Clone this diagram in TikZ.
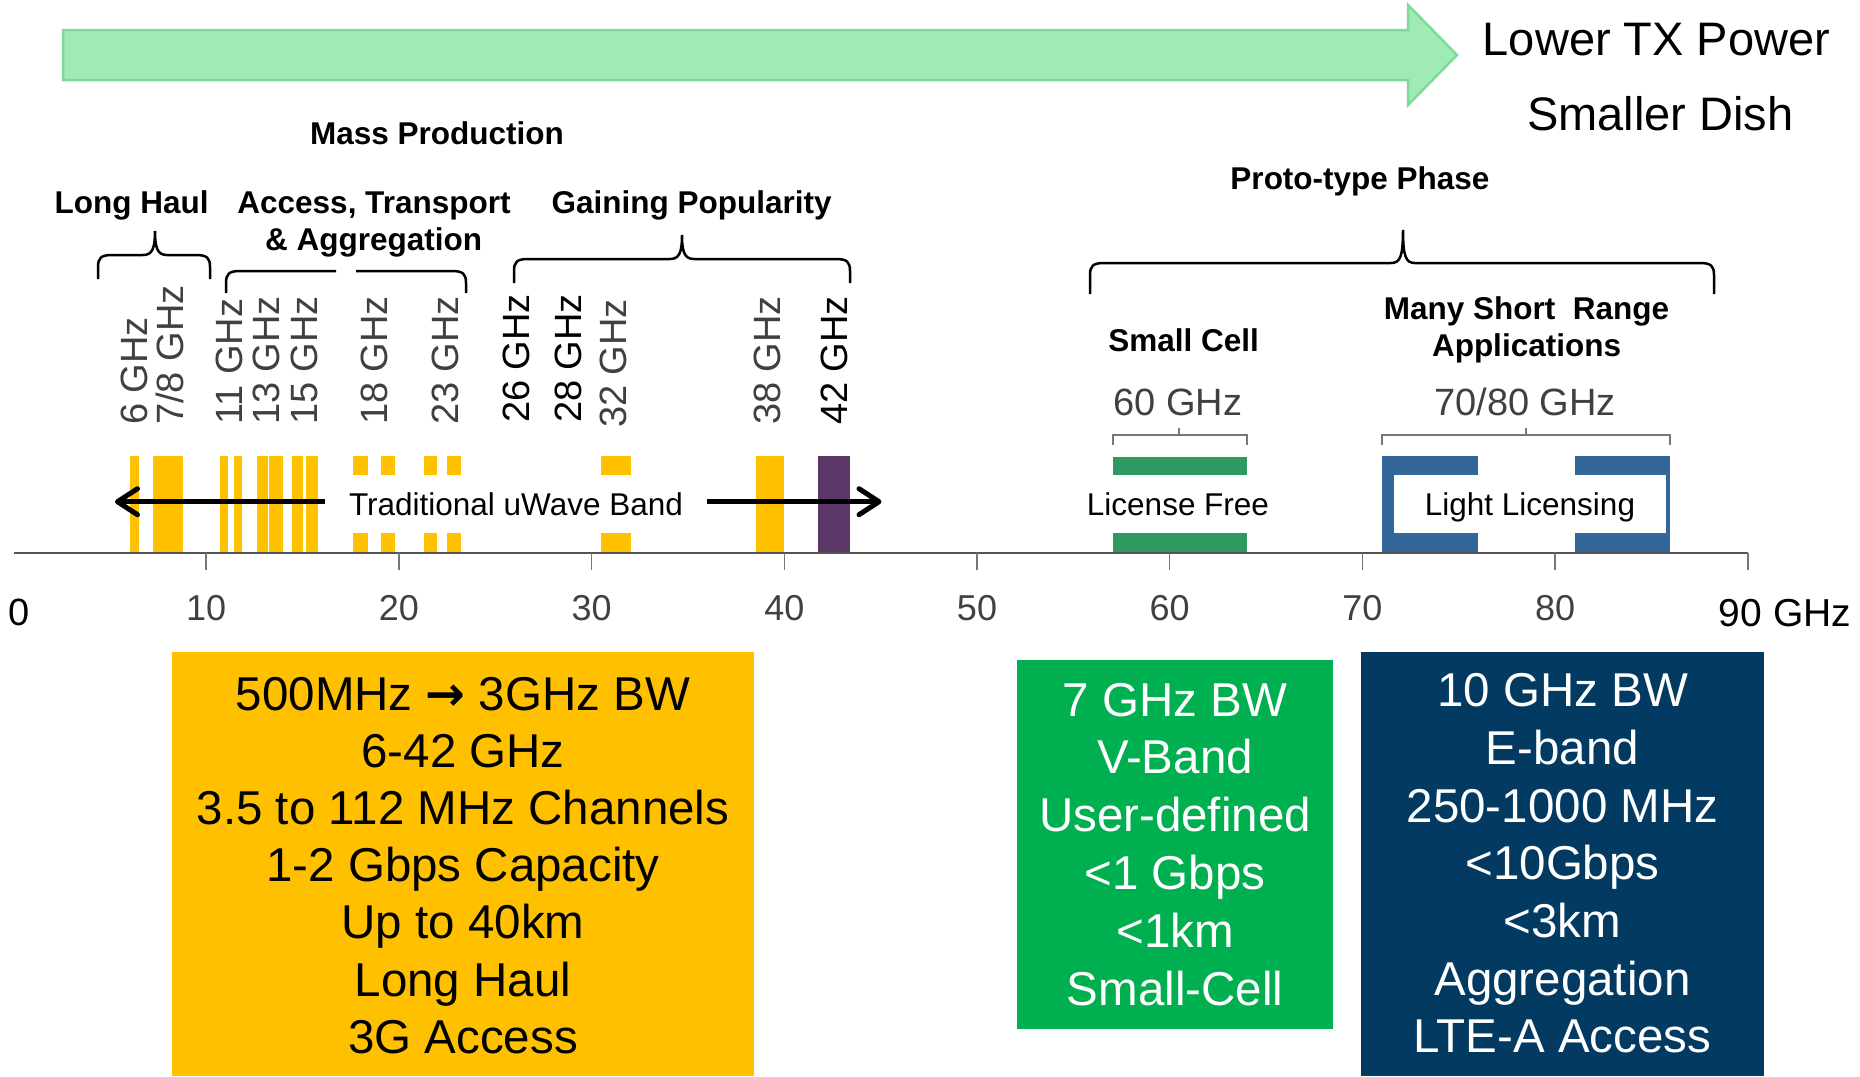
\documentclass[tikz,border=0pt]{standalone}
\usepackage{fontspec}
\setmainfont{Liberation Sans}
\newfontfamily\symfont{DejaVu Sans}
\usetikzlibrary{arrows.meta}
\definecolor{gold}{HTML}{FFC000}
\definecolor{plum}{HTML}{5B3767}
\definecolor{vgreen}{HTML}{2E9A62}
\definecolor{eblue}{HTML}{336699}
\definecolor{boxgreen}{HTML}{00B050}
\definecolor{boxnavy}{HTML}{023A62}
\definecolor{arrfill}{HTML}{A0EAB6}
\definecolor{arredge}{HTML}{7DDB98}
\definecolor{fgray}{HTML}{404040}
\definecolor{axgray}{HTML}{555555}
\definecolor{tkgray}{HTML}{777777}
\newcommand{\fsz}[1]{\fontsize{#1}{#1}\selectfont}
\newcommand{\tipbrace}[6]{%
 \draw[brc] (#1,#5) -- (#1,{#4+12}) .. controls (#1,{#4+3}) and ({#1+3},#4) .. ({#1+14},#4)
   -- ({#3-12},#4) .. controls ({#3-3},#4) and (#3,{#4-6}) .. (#3,#6)
   .. controls (#3,{#4-6}) and ({#3+3},#4) .. ({#3+12},#4)
   -- ({#2-14},#4) .. controls ({#2-3},#4) and (#2,{#4+3}) .. (#2,{#4+12}) -- (#2,#5);}
\begin{document}
\begin{tikzpicture}[x=1pt,y=-1pt,
  big/.style={font=\fsz{47}, anchor=base, inner sep=0},
  lbl/.style={font=\bfseries\fsz{31.5}, anchor=base, inner sep=0},
  reg/.style={font=\fsz{31.5}, anchor=base, inner sep=0},
  freq/.style={font=\fsz{38}, rotate=90, anchor=west, inner sep=0, text height=27pt, text depth=0pt, text=fgray},
  freqb/.style={freq, text=black},
  band/.style={font=\fsz{38}, anchor=base, inner sep=0, text=fgray},
  tnum/.style={font=\fsz{36}, anchor=base, inner sep=0, text=fgray},
  boxtxt/.style={font=\fsz{47.5}, anchor=base, inner sep=0},
  brc/.style={line width=2.5pt, black},
  sbr/.style={line width=2pt, tkgray},
  barrow/.style={line width=5pt, -{Straight Barb[length=20pt,width=26pt,round]}},
  whitebox/.style={fill=white}
]
\useasboundingbox (0,0) rectangle (1860,1076);

% big green arrow
\filldraw[fill=arrfill, draw=arredge, line width=2.5pt, line join=miter]
  (63,30) -- (1408,30) -- (1408,5) -- (1457,55) -- (1408,105) -- (1408,80) -- (63,80) -- cycle;
\node[big] (ltx) at (1656.5,55) {Lower TX Power};
\node[big] (sdish) at (1660.5,130) {Smaller Dish};

% headings
\node[lbl] (mass) at (437,144) {Mass Production};
\node[lbl] (lh) at (131.7,213) {Long Haul};
\node[lbl] (acc) at (374,213) {Access, Transport};
\node[lbl] (agg) at (373.7,250.7) {\& Aggregation};
\node[lbl] (gain) at (691.7,213) {Gaining Popularity};
\node[lbl] (proto) at (1360,189.3) {Proto-type Phase};
\node[lbl] (small) at (1183.6,351.7) {Small Cell};
\node[lbl] (many) at (1526.6,319.3) {Many Short\ \ Range};
\node[lbl] (apps) at (1526.5,356) {Applications};

% braces
\tipbrace{98}{210}{155}{255}{279}{231}
\draw[brc] (226,293) -- (226,283) .. controls (226,274) and (229,271) .. (240,271) -- (336,271);
\draw[brc] (356,271) -- (452,271) .. controls (463,271) and (466,274) .. (466,283) -- (466,293);
\tipbrace{514}{850}{682}{259}{283}{235}
\tipbrace{1090}{1714}{1403}{263}{294}{230}

% frequency labels
\node[freq] (f6) at (134,425) {6 GHz};
\node[freq] (f78) at (170,425) {7/8 GHz};
\node[freq] (f11) at (229,425) {11 GHz};
\node[freq] (f13) at (265.5,425) {13 GHz};
\node[freq] (f15) at (303.5,425) {15 GHz};
\node[freq] (f18) at (374,425) {18 GHz};
\node[freq] (f23) at (444.7,425) {23 GHz};
\node[freqb] (f26) at (516,423) {26 GHz};
\node[freqb] (f28) at (568,423) {28 GHz};
\node[freq] (f32) at (613,428) {32 GHz};
\node[freq] (f38) at (767,425) {38 GHz};
\node[freqb] (f42) at (834,425) {42 GHz};

% bars
\foreach \a/\b in {130/139.3,152.7/182.7,220/227.7,234/241.7,256.7/268.3,269.3/282.7,291.5/302.7,306/318.4,
                   353.2/368.2,380.6/394.7,423.7/437.4,447/461.4,601/630.5,755.6/784.3}
  \fill[gold] (\a,456) rectangle (\b,553);
\fill[plum] (818,456) rectangle (850.2,553);
\fill[vgreen] (1112.5,457) rectangle (1247.3,553);
\fill[eblue] (1382,456) rectangle (1477.7,553);
\fill[eblue] (1575.3,456) rectangle (1669.8,553);

% white label boxes
\fill[whitebox] (330,475) rectangle (700,533);
\fill[whitebox] (1044,475) rectangle (1311,533);
\fill[whitebox] (1394,475) rectangle (1665.7,532.7);

% small brackets
\draw[sbr] (1112.5,445) -- (1112.5,435) -- (1247.3,435) -- (1247.3,445);
\draw[sbr] (1179,435) -- (1179,428);
\draw[sbr] (1382,445) -- (1382,435) -- (1670,435) -- (1670,445);
\draw[sbr] (1526,435) -- (1526,428);
\node[band] (b60) at (1178,415) {60 GHz};
\node[band] (b7080) at (1525,415) {70/80 GHz};

% band labels and arrows
\node[reg] (trad) at (516,515) {Traditional uWave Band};
\node[reg] (lfree) at (1178,515) {License Free};
\node[reg] (llic) at (1530,515) {Light Licensing};
\coordinate (la1) at (325,501.7);
\coordinate (la2) at (115,501.7);
\coordinate (ra1) at (707,501.7);
\coordinate (ra2) at (881.5,501.7);
\draw[barrow] (la1) -- (la2);
\draw[barrow] (ra1) -- (ra2);

% axis
\draw[line width=2.5pt, axgray] (14,553) -- (1748,553);
\foreach \f in {10,20,...,90}
  \draw[line width=1.5pt, tkgray] ({13.5+19.27*\f},553) -- ({13.5+19.27*\f},570);
\foreach \f in {10,20,...,80}
  \node[tnum] (t\f) at ({13.5+19.27*\f},620) {\f};
\node[font=\fsz{38}, anchor=base, inner sep=0] (t0) at (19,625) {0};
\node[font=\fsz{39}, anchor=base, inner sep=0] (t90) at (1785,626.7) {90 GHz};

% bottom boxes
\node[fill=gold, inner sep=0, minimum width=582pt, minimum height=424.3pt, anchor=north west] (ybox) at (172,651.7) {};
\node[fill=boxgreen, inner sep=0, minimum width=316.5pt, minimum height=368.3pt, anchor=north west] (gbox) at (1016.5,660) {};
\node[fill=boxnavy, inner sep=0, minimum width=403pt, minimum height=424.3pt, anchor=north west] (nbox) at (1361,651.7) {};

\foreach \t [count=\i from 0] in {{500MHz {\symfont\bfseries →} 3GHz BW},6-42 GHz,3.5 to 112 MHz Channels,1-2 Gbps Capacity,Up to 40km,Long Haul,3G Access}
  \node[boxtxt] (y\i) at (463,{710+57.2*\i}) {\t};
\foreach \t [count=\i from 0] in {7 GHz BW,V-Band,User-defined,<1 Gbps,<1km,Small-Cell}
  \node[boxtxt, text=white] (g\i) at (1175,{716+57.8*\i}) {\t};
\foreach \t [count=\i from 0] in {10 GHz BW,E-band,250-1000 MHz,<10Gbps,<3km,Aggregation,LTE-A Access}
  \node[boxtxt, text=white] (n\i) at (1562.5,{706.7+57.7*\i}) {\t};
\end{tikzpicture}
\end{document}
